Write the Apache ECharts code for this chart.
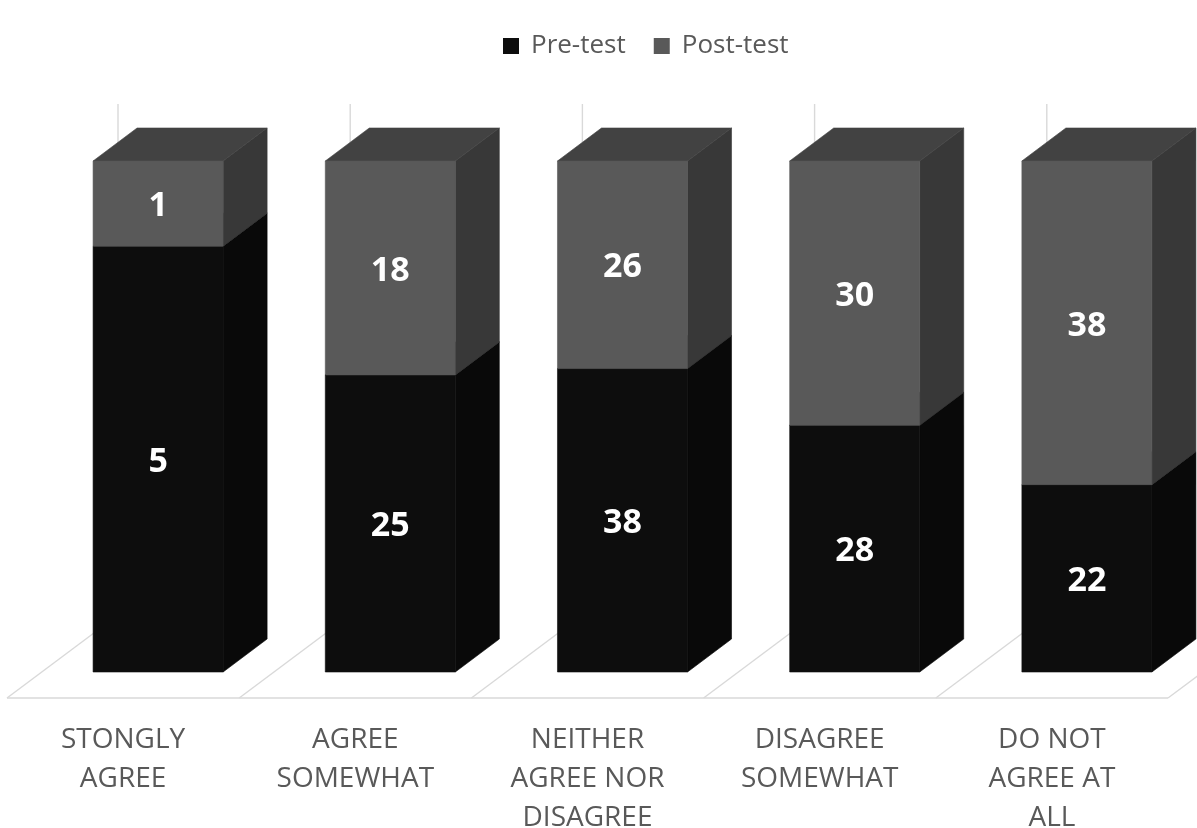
<!DOCTYPE html>
<html>
<head>
<meta charset="utf-8">
<script src="https://cdn.jsdelivr.net/npm/echarts@6/dist/echarts.min.js"></script>
<style>
html,body{margin:0;padding:0;background:#fff;}
#chart{width:1197px;height:828px;}
</style>
</head>
<body>
<div id="chart"></div>
<script>
const categories = ['STONGLY\nAGREE', 'AGREE\nSOMEWHAT', 'NEITHER\nAGREE NOR\nDISAGREE', 'DISAGREE\nSOMEWHAT', 'DO NOT\nAGREE AT\nALL'];
const preTest = [5, 25, 38, 28, 22];
const postTest = [1, 18, 26, 30, 38];
const seriesNames = ['Pre-test', 'Post-test'];

// 100% stacked shares
const preData = preTest.map((v, i) => {
  const tot = v + postTest[i];
  return [i, 0, v / tot * 100, v];
});
const postData = postTest.map((v, i) => {
  const tot = preTest[i] + v;
  return [i, preTest[i] / tot * 100, 100, v];
});

// oblique depth geometry (pixels)
const DEPTH_X = 111, DEPTH_Y = 83;       // full floor depth
const FRONT_X = 35, FRONT_Y = 26;        // bar front plane
const BACK_X = 79, BACK_Y = 59;          // bar back plane
const BAR_RATIO = 0.56;
const FONT = '"Open Sans", "Liberation Sans", sans-serif';

function barRenderer(colors) {
  return function (params, api) {
    const i = api.value(0), lo = api.value(1), hi = api.value(2), raw = api.value(3);
    const b = api.coord([i, lo]);
    const t = api.coord([i, hi]);
    const w = api.size([1, 0])[0] * BAR_RATIO;
    const x0 = b[0] - w / 2 + FRONT_X, x1 = x0 + w;
    const yb = b[1] - FRONT_Y, yt = t[1] - FRONT_Y;
    const dx = BACK_X - FRONT_X, dy = BACK_Y - FRONT_Y;
    const st = (c) => ({ fill: c, stroke: c, lineWidth: 0.6 });
    return {
      type: 'group',
      children: [
        { type: 'polygon', shape: { points: [[x1, yb], [x1, yt], [x1 + dx, yt - dy], [x1 + dx, yb - dy]] }, style: st(colors.side) },
        { type: 'polygon', shape: { points: [[x0, yt], [x1, yt], [x1 + dx, yt - dy], [x0 + dx, yt - dy]] }, style: st(colors.top) },
        { type: 'rect', shape: { x: x0, y: yt, width: w, height: yb - yt }, style: st(colors.front) },
        { type: 'text', x: (x0 + x1) / 2, y: (yt + yb) / 2 + 3,
          style: { text: String(raw), fill: '#ffffff', font: 'bold 34px ' + FONT, align: 'center', verticalAlign: 'middle' } }
      ]
    };
  };
}

function floorRenderer(params, api) {
  const c = api.coord([0, 0]);
  const top = api.coord([0, 100]);
  const cw = api.size([1, 0])[0];
  const left = c[0] - cw / 2;
  const y0 = c[1];
  const n = categories.length;
  const ls = { stroke: '#d9d9d9', lineWidth: 1.4 };
  const children = [
    { type: 'line', shape: { x1: left, y1: y0, x2: left + n * cw, y2: y0 }, style: ls }
  ];
  for (let k = 0; k <= n; k++) {
    const x = left + k * cw;
    children.push({ type: 'line', shape: { x1: x, y1: y0, x2: x + DEPTH_X, y2: y0 - DEPTH_Y }, style: ls });
    children.push({ type: 'line', shape: { x1: x + DEPTH_X, y1: y0 - DEPTH_Y, x2: x + DEPTH_X, y2: top[1] - DEPTH_Y }, style: ls });
  }
  return { type: 'group', children };
}

const chart = echarts.init(document.getElementById('chart'), null, { renderer: 'canvas' });
chart.setOption({
  animation: false,
  backgroundColor: '#ffffff',
  legend: {
    data: seriesNames,
    left: 498,
    top: 28,
    icon: 'rect',
    itemWidth: 16,
    itemHeight: 16,
    itemGap: 28,
    textStyle: { fontFamily: FONT, fontSize: 26, color: '#595959', padding: [0, 0, 0, 7] }
  },
  grid: { left: 7, right: 29, top: 187, bottom: 130, containLabel: false, outerBoundsMode: 'none' },
  xAxis: {
    type: 'category',
    data: categories,
    boundaryGap: true,
    axisLine: { show: false },
    axisTick: { show: false },
    splitLine: { show: false },
    axisLabel: {
      interval: 0,
      margin: 23,
      fontFamily: FONT,
      fontSize: 28,
      lineHeight: 39,
      color: '#595959',
      verticalAlign: 'top'
    }
  },
  yAxis: { type: 'value', min: 0, max: 100, show: false },
  series: [
    { name: 'floor', type: 'custom', z: 1, silent: true, clip: false, renderItem: floorRenderer, data: [[0, 0]] },
    { name: seriesNames[0], type: 'custom', z: 2, clip: false, itemStyle: { color: '#0d0d0d' },
      renderItem: barRenderer({ front: '#0d0d0d', side: '#090909', top: '#141414' }),
      encode: { x: 0, y: [1, 2] }, data: preData },
    { name: seriesNames[1], type: 'custom', z: 3, clip: false, itemStyle: { color: '#595959' },
      renderItem: barRenderer({ front: '#595959', side: '#383838', top: '#424242' }),
      encode: { x: 0, y: [1, 2] }, data: postData }
  ]
});
</script>
</body>
</html>
